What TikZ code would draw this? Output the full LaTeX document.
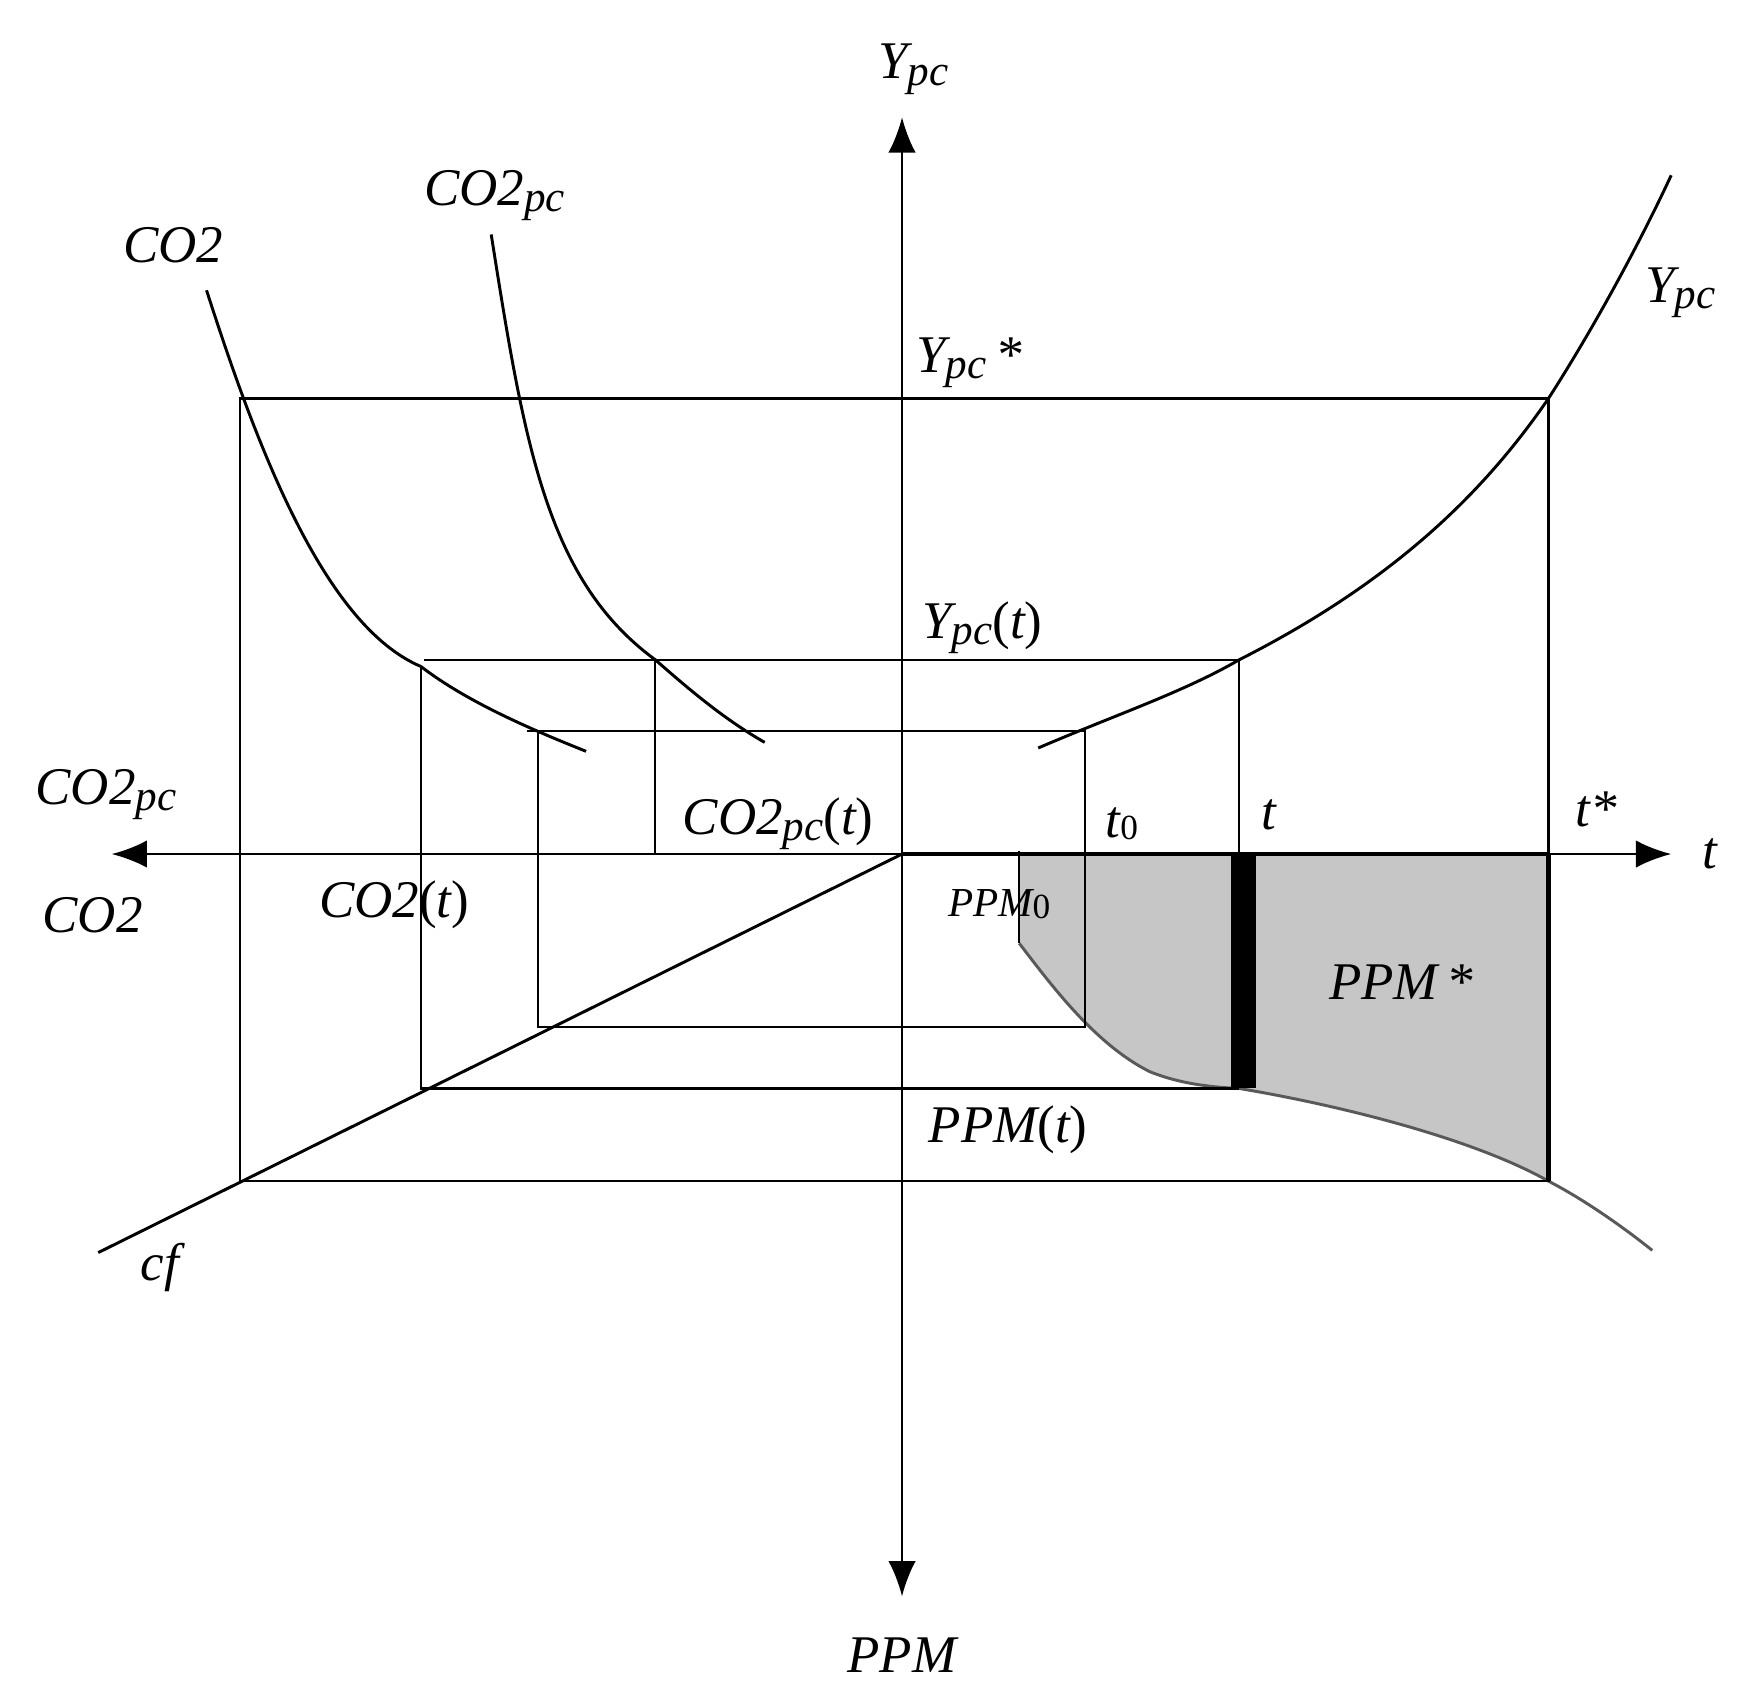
\documentclass[tikz,border=0pt]{standalone}
\usepackage{fontspec}
\setmainfont{Liberation Serif}
\usetikzlibrary{arrows.meta}
\newcommand{\lsub}[1]{\raisebox{-0.25ex}{\fontsize{22}{22}\selectfont #1}}
\newcommand{\zsub}[1]{\raisebox{-0.1ex}{\fontsize{18}{18}\selectfont\upshape #1}}
\newcommand{\pt}[1]{{\upshape(}#1{\upshape)}}
\begin{document}
\begin{tikzpicture}[x=0.02cm,y=-0.02cm,
  lab/.style={font=\fontsize{27}{29}\selectfont\itshape, inner sep=0pt},
  ln/.style={line width=1.2pt},
  ax/.style={line width=1.4pt,-{Latex[length=18pt,width=14pt]}}]
\useasboundingbox (0,0) rectangle (1564,1525);
% shaded region
\fill[gray!45] (913,765) -- (913,845) .. controls (940,880) and (980,935) .. (1030,960) .. controls (1060,972) and (1090,974) .. (1110,975) .. controls (1200,990) and (1320,1020) .. (1387,1058) -- (1387,765) -- cycle;
\draw[line width=1.5pt, gray!70!black] (913,845) .. controls (940,880) and (980,935) .. (1030,960) .. controls (1060,972) and (1090,974) .. (1110,975) .. controls (1200,990) and (1320,1020) .. (1387,1058) .. controls (1420,1075) and (1455,1100) .. (1480,1120);
\draw[ln] (913,762) -- (913,845);
\fill (1103,765) rectangle (1125,975);
\draw[line width=2.2pt] (1387,765) -- (1387,1058);
% axes
\coordinate (O) at (808,765);
\coordinate (yt) at (808,105);
\coordinate (yb) at (808,1430);
\coordinate (xl) at (100,765);
\coordinate (xr) at (1497,765);
\draw[ax] (O) -- (yt);
\draw[ax] (O) -- (yb);
\draw[ax] (O) -- (xl);
\draw[ax] (O) -- (xr);
\draw[line width=2pt] (808,765) -- (1387,765);
% rectangles
\draw[ln] (215,357) rectangle (1387,1058);
\draw[ln] (380,591) -- (1110,591) -- (1110,765);
\draw[ln] (377,597) -- (377,975) -- (1110,975);
\draw[ln] (472,655) -- (972,655) -- (972,920) -- (482,920) -- (482,655);
\draw[ln] (587,591) -- (587,765);
% cf line
\draw[line width=1.5pt] (88,1122) -- (O);
% curves
\draw[line width=1.5pt] (185,260) .. controls (230,400) and (290,560) .. (377,597) .. controls (420,630) and (480,655) .. (525,673);
\draw[line width=1.5pt] (440,210) .. controls (470,400) and (490,520) .. (587,591) .. controls (620,620) and (650,645) .. (685,665);
\draw[line width=1.5pt] (930,670) .. controls (1000,640) and (1060,620) .. (1110,591) .. controls (1250,520) and (1330,440) .. (1387,357) .. controls (1430,290) and (1470,215) .. (1497,157);
% labels
\node[lab] (l1) at (818,62) {Y\lsub{pc}};
\node[lab] (l2) at (808,1483) {PPM};
\node[lab] (l3) at (95,712) {CO2\lsub{pc}};
\node[lab] (l4) at (83,820) {CO2};
\node[lab] (l5) at (1532,765) {t};
\node[lab] (l6) at (868,325) {Y\lsub{pc}\,*};
\node[lab] (l7) at (880,562) {Y\lsub{pc}\pt{t}};
\node[lab] (l8) at (697,738) {CO2\lsub{pc}\pt{t}};
\node[lab] (l9) at (1005,738) {t\zsub{0}};
\node[lab] (l10) at (1137,730) {t};
\node[lab] (l11) at (1430,725) {t*};
\node[lab] (l12) at (353,810) {CO2\pt{t}};
\node[lab,font=\fontsize{21}{23}\selectfont\itshape] (l13) at (895,810) {PPM\zsub{0}};
\node[lab] (l14) at (1255,880) {PPM\,*};
\node[lab] (l15) at (903,1012) {PPM\pt{t}};
\node[lab] (l16) at (143,1135) {cf};
\node[lab] (l17) at (155,220) {CO2};
\node[lab] (l18) at (443,175) {CO2\lsub{pc}};
\node[lab] (l19) at (1505,262) {Y\lsub{pc}};
\end{tikzpicture}
\end{document}
